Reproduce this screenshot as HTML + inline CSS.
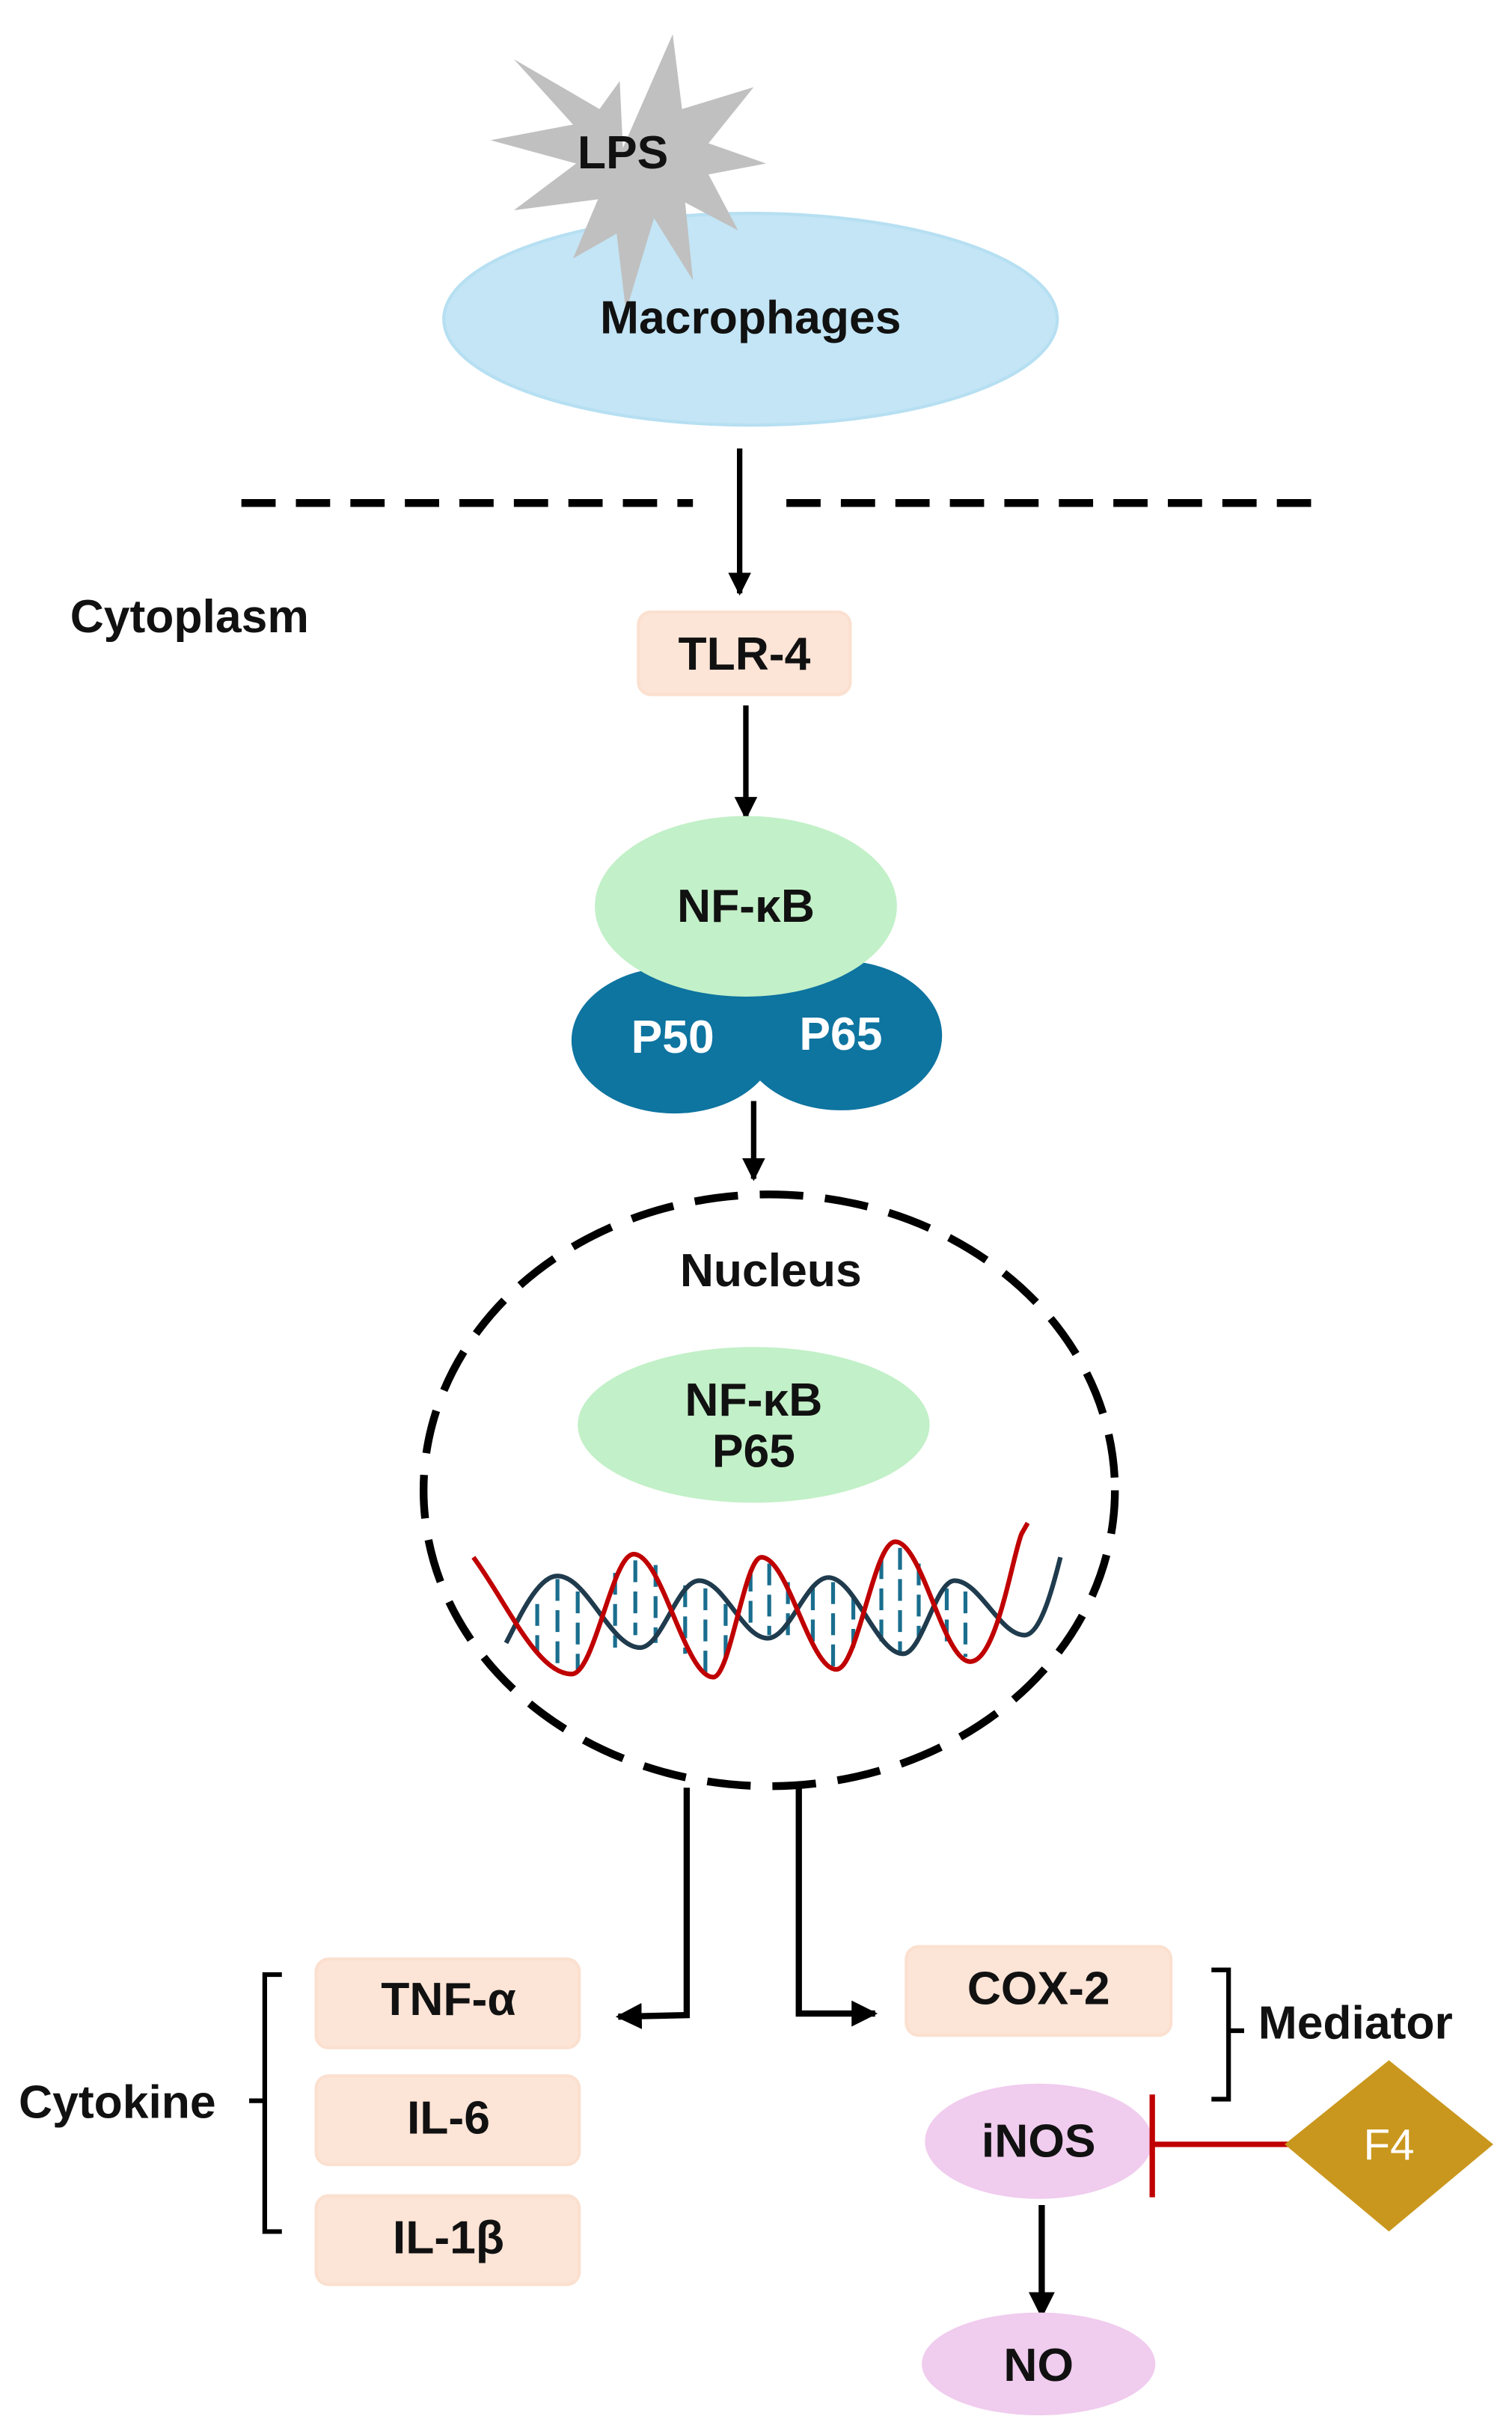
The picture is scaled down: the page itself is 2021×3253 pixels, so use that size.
<!DOCTYPE html>
<html><head><meta charset="utf-8"><style>
html,body{margin:0;padding:0;background:#fff;}
svg{display:block;}
text{font-family:"Liberation Sans",Arial,sans-serif;font-weight:bold;fill:#111;}
</style></head><body>
<svg width="2021" height="3253" viewBox="0 0 971 1563" xmlns="http://www.w3.org/2000/svg">
<defs>
<marker id="ah" viewBox="0 0 10 10" refX="9" refY="5" markerWidth="4.2" markerHeight="4.2" orient="auto" markerUnits="strokeWidth">
<path d="M0,0 L10,5 L0,10 Z" fill="#000"/></marker>
</defs>
<ellipse cx="482" cy="205" rx="197" ry="68" fill="#c3e5f5" stroke="#b6dff2" stroke-width="2"/>
<polygon fill="#c0c0c0" points="400,95 432,22 438,70 484,56 455,92 492,105 455,112 474,148 440,130 445,180 420,140 402,200 396,150 368,166 384,128 330,135 370,105 315,90 368,80 330,38 385,70 398,52" />
<text x="400" y="108" font-size="30" text-anchor="middle">LPS</text>
<text x="482" y="214" font-size="30" text-anchor="middle">Macrophages</text>
<line x1="155" y1="323" x2="445" y2="323" stroke="#000" stroke-width="5" stroke-dasharray="22 13"/>
<line x1="505" y1="323" x2="852" y2="323" stroke="#000" stroke-width="5" stroke-dasharray="22 13"/>
<line x1="475" y1="288" x2="475" y2="381" stroke="#000" stroke-width="3.5" marker-end="url(#ah)"/>
<text x="45" y="406" font-size="30">Cytoplasm</text>
<rect x="410" y="393" width="136" height="53" rx="8" fill="#fce4d6" stroke="#fbe0d0" stroke-width="2"/>
<text x="478" y="430" font-size="30" text-anchor="middle">TLR-4</text>
<line x1="479" y1="453" x2="479" y2="525" stroke="#000" stroke-width="3.5" marker-end="url(#ah)"/>
<ellipse cx="433" cy="668" rx="66" ry="47" fill="#0e74a0"/>
<ellipse cx="540" cy="665" rx="65" ry="48" fill="#0e74a0"/>
<ellipse cx="479" cy="582" rx="97" ry="58" fill="#c2f0c8"/>
<text x="479" y="592" font-size="30" text-anchor="middle">NF-κB</text>
<text x="432" y="676" font-size="30" text-anchor="middle" style="fill:#fff">P50</text>
<text x="540" y="674" font-size="30" text-anchor="middle" style="fill:#fff">P65</text>
<line x1="484" y1="707" x2="484" y2="757" stroke="#000" stroke-width="3.5" marker-end="url(#ah)"/>
<ellipse cx="494" cy="957" rx="222" ry="190" fill="none" stroke="#000" stroke-width="5" stroke-dasharray="28 14"/>
<text x="495" y="826" font-size="30" text-anchor="middle">Nucleus</text>
<ellipse cx="484" cy="915" rx="113" ry="50" fill="#c2f0c8"/>
<text x="484" y="909" font-size="30" text-anchor="middle">NF-κB</text>
<text x="484" y="942" font-size="30" text-anchor="middle">P65</text>
<g stroke="#1a6e8e" stroke-width="2.5" stroke-dasharray="14 6">
<line x1="345" y1="1030" x2="345" y2="1062"/><line x1="358" y1="1014" x2="358" y2="1068"/><line x1="371" y1="1022" x2="371" y2="1072"/>
<line x1="395" y1="1010" x2="395" y2="1058"/><line x1="408" y1="1002" x2="408" y2="1050"/><line x1="421" y1="1005" x2="421" y2="1055"/>
<line x1="440" y1="1018" x2="440" y2="1062"/><line x1="453" y1="1020" x2="453" y2="1074"/><line x1="466" y1="1030" x2="466" y2="1068"/>
<line x1="482" y1="1008" x2="482" y2="1042"/><line x1="494" y1="1004" x2="494" y2="1050"/><line x1="506" y1="1016" x2="506" y2="1050"/>
<line x1="522" y1="1020" x2="522" y2="1060"/><line x1="535" y1="1016" x2="535" y2="1070"/><line x1="548" y1="1026" x2="548" y2="1058"/>
<line x1="566" y1="1000" x2="566" y2="1058"/><line x1="578" y1="994" x2="578" y2="1062"/><line x1="590" y1="1004" x2="590" y2="1052"/>
<line x1="608" y1="1020" x2="608" y2="1056"/><line x1="620" y1="1022" x2="620" y2="1064"/>
</g>
<path d="M325,1055 C333,1040 345,1012 358,1012 C377,1012 392,1058 411,1058 C425,1058 435,1015 449,1015 C465,1015 477,1052 493,1052 C507,1052 518,1013 532,1013 C549,1013 563,1062 580,1062 C592,1062 601,1015 613,1015 C629,1015 642,1050 658,1050 C668,1050 676,1020 681,1000" fill="none" stroke="#1f3b4d" stroke-width="3"/>
<path d="M304,1000 C326,1030 345,1075 367,1075 C382,1075 393,998 407,998 C425,998 440,1077 458,1077 C469,1077 478,1000 489,1000 C506,1000 520,1072 537,1072 C551,1072 561,990 575,990 C592,990 606,1067 623,1067 C640,1067 650,1000 656,985 L660,978" fill="none" stroke="#c00000" stroke-width="3"/>
<polyline points="441,1148 441,1294 397,1295" fill="none" stroke="#000" stroke-width="4" marker-end="url(#ah)"/>
<polyline points="513,1148 513,1293 562,1293" fill="none" stroke="#000" stroke-width="4" marker-end="url(#ah)"/>
<rect x="203" y="1258" width="169" height="57" rx="8" fill="#fce4d6" stroke="#fbe0d0" stroke-width="2"/>
<rect x="203" y="1333" width="169" height="57" rx="8" fill="#fce4d6" stroke="#fbe0d0" stroke-width="2"/>
<rect x="203" y="1410" width="169" height="57" rx="8" fill="#fce4d6" stroke="#fbe0d0" stroke-width="2"/>
<text x="288" y="1294" font-size="30" text-anchor="middle">TNF-α</text>
<text x="288" y="1370" font-size="30" text-anchor="middle">IL-6</text>
<text x="288" y="1447" font-size="30" text-anchor="middle">IL-1β</text>
<polyline points="181,1268 170,1268 170,1433 181,1433" fill="none" stroke="#000" stroke-width="3"/>
<line x1="160" y1="1349" x2="170" y2="1349" stroke="#000" stroke-width="3"/>
<text x="12" y="1360" font-size="30">Cytokine</text>
<rect x="582" y="1250" width="170" height="57" rx="8" fill="#fce4d6" stroke="#fbe0d0" stroke-width="2"/>
<text x="667" y="1287" font-size="30" text-anchor="middle">COX-2</text>
<polyline points="778,1265 789,1265 789,1348 778,1348" fill="none" stroke="#000" stroke-width="3"/>
<line x1="789" y1="1304" x2="799" y2="1304" stroke="#000" stroke-width="3"/>
<text x="808" y="1309" font-size="30">Mediator</text>
<ellipse cx="667" cy="1375" rx="73" ry="37" fill="#f0ccee"/>
<text x="667" y="1385" font-size="30" text-anchor="middle">iNOS</text>
<line x1="740" y1="1377" x2="830" y2="1377" stroke="#c00000" stroke-width="3.5"/>
<line x1="740" y1="1345" x2="740" y2="1411" stroke="#c00000" stroke-width="3.5"/>
<polygon points="825,1377 892,1323 959,1377 892,1433" fill="#c9971d"/>
<text x="892" y="1387" font-size="28" text-anchor="middle" style="fill:#fff;font-weight:normal">F4</text>
<line x1="669" y1="1416" x2="669" y2="1487" stroke="#000" stroke-width="4" marker-end="url(#ah)"/>
<ellipse cx="667" cy="1518" rx="75" ry="33" fill="#f0ccee"/>
<text x="667" y="1529" font-size="30" text-anchor="middle">NO</text>
</svg>
</body></html>
